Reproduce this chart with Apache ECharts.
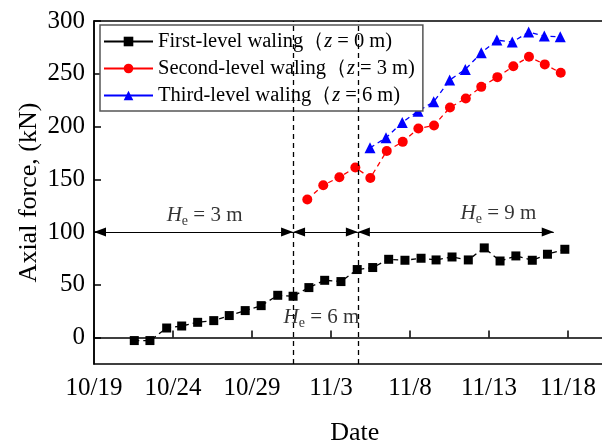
<!DOCTYPE html>
<html>
<head>
<meta charset="utf-8">
<script src="https://cdn.jsdelivr.net/npm/echarts@6/dist/echarts.min.js"></script>
<style>html,body{margin:0;padding:0;background:#fff;}#chart{width:602px;height:445px;}</style>
</head>
<body>
<div id="chart"></div>
<script>
// x values: days after 10/19 (00:00)
const tickLabels = ['10/19', '10/24', '10/29', '11/3', '11/8', '11/13', '11/18'];
const seriesNames = ['First-level waling（z = 0 m)', 'Second-level waling（z = 3 m)', 'Third-level waling（z = 6 m)'];
const legendLabels = ['First-level waling（{i|z} = 0 m)', 'Second-level waling（{i|z} = 3 m)', 'Third-level waling（{i|z} = 6 m)'];

const firstDays = [2.55, 3.54, 4.6, 5.55, 6.56, 7.58, 8.56, 9.57, 10.58, 11.63, 12.6, 13.6, 14.6, 15.63, 16.66, 17.64, 18.65, 19.68, 20.7, 21.65, 22.66, 23.69, 24.7, 25.7, 26.7, 27.74, 28.7, 29.8];
const firstValues = [-2.8, -2.8, 9.1, 11, 14.5, 16.1, 20.9, 25.6, 30.3, 40.1, 39.2, 47.4, 54.3, 53.1, 64.5, 66.4, 74.2, 73.3, 75.2, 73.6, 76.4, 73.6, 85, 72.6, 77.4, 73.3, 79, 83.7];

const secondDays = [13.5, 14.51, 15.53, 16.54, 17.49, 18.53, 19.54, 20.53, 21.52, 22.53, 23.53, 24.51, 25.53, 26.54, 27.53, 28.53, 29.54];
const secondValues = [130.8, 144.4, 152, 161.2, 151.3, 176.9, 185.5, 198.2, 201, 218.1, 226.6, 237.6, 246.8, 257.2, 266.1, 258.9, 250.9];

const thirdDays = [17.47, 18.48, 19.51, 20.51, 21.5, 22.51, 23.5, 24.51, 25.5, 26.47, 27.51, 28.5, 29.51];
const thirdValues = [179.8, 189.3, 203.9, 214.6, 223.4, 244, 254.1, 269.8, 281.9, 280, 289.5, 285.7, 285];

const stageBoundaries = [12.6, 16.7];
const arrowLevel = 100;
const arrowSpans = [[0, 12.6], [12.6, 16.7], [16.7, 29.1]];
const stageLabels = ['3 m', '6 m', '9 m'];
const stageLabelDays = [7.0, 14.4, 25.6];
const stageLabelValues = [116, 19.5, 118];

const FONT = '"Liberation Serif", "Times New Roman", serif';

function pairs(xs, ys) { return xs.map((x, i) => [x, ys[i]]); }

const chart = echarts.init(document.getElementById('chart'), null, { renderer: 'canvas' });

const lineBase = { type: 'line', z: 3, lineStyle: { width: 1.3, type: [5, 4] } };

const option = {
  animation: false,
  backgroundColor: '#fff',
  grid: { left: 94, top: 21, width: 521.4, height: 343, show: true, borderColor: '#000', borderWidth: 1.5, backgroundColor: 'transparent', outerBoundsMode: 'none', containLabel: false },
  legend: {
    orient: 'vertical', left: 100, top: 25,
    data: seriesNames,
    itemWidth: 49, itemHeight: 12, itemGap: 6,
    padding: [6, 8, 5, 3],
    borderColor: '#555', borderWidth: 1.5, backgroundColor: '#fff',
    lineStyle: { type: 'solid' },
    formatter: (name) => legendLabels[seriesNames.indexOf(name)],
    textStyle: { fontFamily: FONT, fontSize: 20.5, color: '#000', rich: { i: { fontFamily: FONT, fontSize: 20.5, fontStyle: 'italic', color: '#000' } } }
  },
  xAxis: {
    type: 'value', min: 0, max: 33, interval: 5,
    name: 'Date', nameLocation: 'middle', nameGap: 56, nameMoveOverlap: false,
    nameTextStyle: { fontFamily: FONT, fontSize: 26, color: '#000' },
    axisLine: { lineStyle: { color: '#000', width: 1.5 } },
    axisTick: { inside: true, length: 7, lineStyle: { color: '#000', width: 1.5 } },
    axisLabel: { fontFamily: FONT, fontSize: 25, color: '#000', margin: 12, showMaxLabel: false,
      formatter: (v) => (v % 5 === 0 && tickLabels[v / 5] !== undefined) ? tickLabels[v / 5] : '' },
    splitLine: { show: false }
  },
  yAxis: {
    type: 'value', min: -25, max: 300,
    name: 'Axial force, (kN)', nameLocation: 'middle', nameGap: 52, nameMoveOverlap: false,
    nameTextStyle: { fontFamily: FONT, fontSize: 26, color: '#000' },
    axisLine: { show: true, lineStyle: { color: '#000', width: 1.5 } },
    axisTick: { inside: true, length: 7, lineStyle: { color: '#000', width: 1.5 } },
    axisLabel: { fontFamily: FONT, fontSize: 25, color: '#000', margin: 9, showMinLabel: false },
    splitLine: { show: false }
  },
  series: [
    Object.assign({}, lineBase, {
      name: seriesNames[0], data: pairs(firstDays, firstValues),
      symbol: 'rect', symbolSize: 9,
      itemStyle: { color: '#000' }, lineStyle: { color: '#000', width: 1.3, type: [5, 4] },
      markLine: {
        silent: true, symbol: 'none', animation: false,
        label: { show: false },
        lineStyle: { color: '#000', width: 1.3, type: [5, 4] },
        data: stageBoundaries.map(d => ({ xAxis: d }))
      }
    }),
    Object.assign({}, lineBase, {
      name: seriesNames[1], data: pairs(secondDays, secondValues),
      symbol: 'circle', symbolSize: 10,
      itemStyle: { color: '#ff0000' }, lineStyle: { color: '#ff0000', width: 1.3, type: [5, 4] }
    }),
    Object.assign({}, lineBase, {
      name: seriesNames[2], data: pairs(thirdDays, thirdValues),
      symbol: 'triangle', symbolSize: 11,
      itemStyle: { color: '#0000ff' }, lineStyle: { color: '#0000ff', width: 1.3, type: [5, 4] }
    }),
    {
      name: 'arrows', type: 'line', data: [], z: 2,
      markLine: {
        silent: true, animation: false,
        symbol: ['triangle', 'triangle'], symbolSize: [9, 12], symbolOffset: [[0, 6], [0, 6]],
        label: { show: false },
        lineStyle: { color: '#000', width: 1.2, type: 'solid' },
        itemStyle: { color: '#000' },
        data: arrowSpans.map(s => [{ coord: [s[0], arrowLevel] }, { coord: [s[1], arrowLevel] }])
      }
    },
    {
      name: 'stageText', type: 'scatter', symbolSize: 0, z: 4, silent: true,
      data: stageLabels.map((t, i) => ({ value: [stageLabelDays[i], stageLabelValues[i]] })),
      label: {
        show: true, position: 'inside',
        formatter: (p) => '{h|H}{s|e}{n| = ' + stageLabels[p.dataIndex] + '}',
        rich: {
          h: { fontFamily: FONT, fontSize: 21, fontStyle: 'italic', color: '#000' },
          s: { fontFamily: FONT, fontSize: 14, color: '#000', padding: [12, 0, 0, 0] },
          n: { fontFamily: FONT, fontSize: 21, color: '#000' }
        }
      }
    }
  ]
};
chart.setOption(option);
</script>
</body>
</html>
